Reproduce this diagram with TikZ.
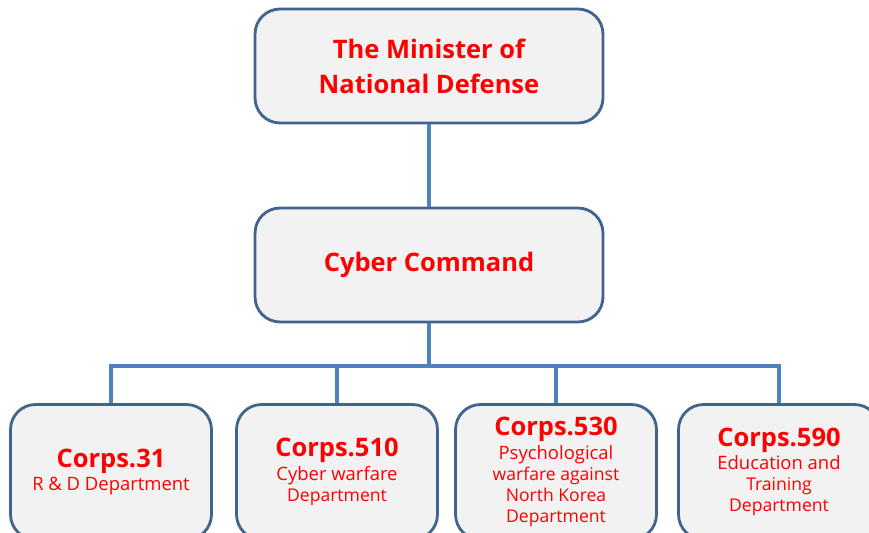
\documentclass[tikz,border=0pt]{standalone}
\usepackage{fontspec}
\setmainfont{Open Sans}
\definecolor{boxline}{HTML}{41648F}
\definecolor{boxfill}{HTML}{F2F2F2}
\definecolor{linkblue}{HTML}{4F81BD}
\definecolor{txtred}{HTML}{FF0000}
\newcommand{\headfont}{\bfseries\fontsize{14.5}{20}\selectfont}
\newcommand{\subfont}{\mdseries\fontsize{10.5}{12.6}\selectfont}

\begin{document}
\begin{tikzpicture}[x=0.02cm, y=-0.02cm,
  orgbox/.style={draw=boxline, fill=boxfill, line width=1.6pt, rounded corners=0.5cm,
    text=txtred, align=center, inner sep=0pt},
  headbox/.style={orgbox, minimum width=6.96cm, minimum height=2.28cm, font=\headfont},
  corpsbox/.style={orgbox, minimum width=4.02cm, minimum height=2.7cm},
  link/.style={draw=linkblue, line width=2.8pt}]
  \useasboundingbox (0,0) rectangle (869,533);
  % top levels
  \node[headbox] (minister) at (429,66) {The Minister of\\National Defense};
  \node[headbox] (command) at (429,265) {Cyber Command};
  % corps
  \node[corpsbox] (c31) at (111,472)
    {\headfont Corps.31\\[1.2pt] \subfont R \& D Department};
  \node[corpsbox] (c510) at (337,472)
    {\headfont Corps.510\\[1.2pt] \subfont Cyber warfare\\ Department};
  \node[corpsbox] (c530) at (556,472)
    {\headfont Corps.530\\[1.2pt] \subfont Psychological\\ warfare against\\ North Korea\\ Department};
  \node[corpsbox] (c590) at (779,472)
    {\headfont Corps.590\\[1.2pt] \subfont Education and\\ Training\\ Department};
  % connectors
  \coordinate (bus) at (429,366);
  \draw[link] (minister.south) -- (command.north);
  \draw[link] (command.south) -- (bus);
  \draw[link] (bus) -| (c31.north);
  \draw[link] (bus) -| (c510.north);
  \draw[link] (bus) -| (c530.north);
  \draw[link] (bus) -| (c590.north);
\end{tikzpicture}
\end{document}
